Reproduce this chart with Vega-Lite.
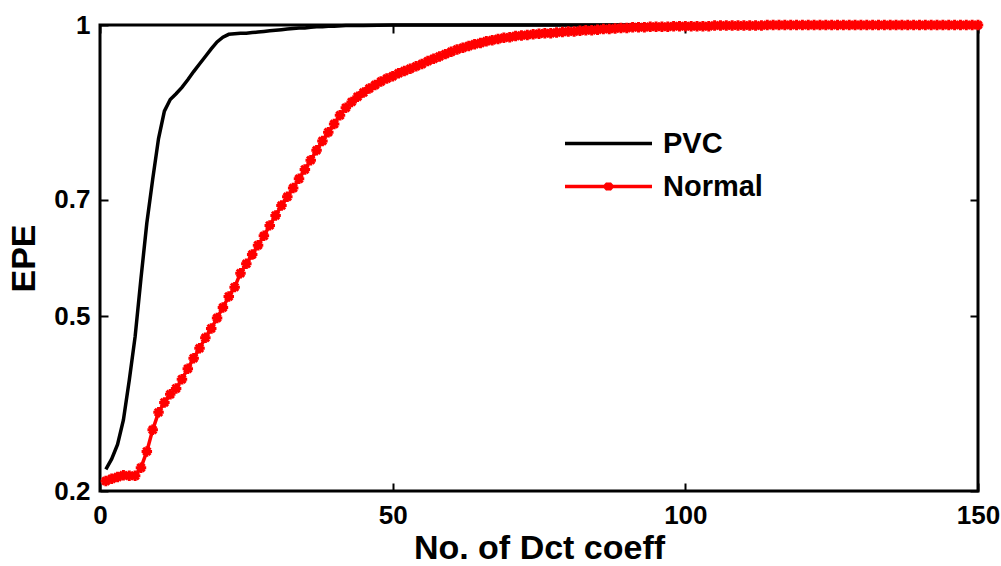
{
  "$schema": "https://vega.github.io/schema/vega-lite/v6.json",
  "width": 878,
  "height": 466,
  "autosize": "none",
  "padding": {"left": 100, "top": 25, "right": 23, "bottom": 75},
  "background": "white",
  "config": {
    "view": {"stroke": "black", "strokeWidth": 3},
    "axis": {
      "domain": false,
      "grid": false,
      "tickColor": "black",
      "tickWidth": 2,
      "tickSize": -8,
      "labelFlush": false,
      "labelFont": "Liberation Sans",
      "labelFontWeight": "bold",
      "labelFontSize": 26,
      "labelColor": "black",
      "titleFont": "Liberation Sans",
      "titleFontWeight": "bold",
      "titleFontSize": 34,
      "titleColor": "black"
    }
  },
  "data": {
    "values": [
      {"x": 1, "v": 0.237, "s": "PVC"}, {"x": 2, "v": 0.255, "s": "PVC"}, {"x": 3, "v": 0.28, "s": "PVC"}, {"x": 4, "v": 0.322, "s": "PVC"}, {"x": 5, "v": 0.39, "s": "PVC"},
      {"x": 6, "v": 0.465, "s": "PVC"}, {"x": 7, "v": 0.565, "s": "PVC"}, {"x": 8, "v": 0.66, "s": "PVC"}, {"x": 9, "v": 0.735, "s": "PVC"}, {"x": 10, "v": 0.805, "s": "PVC"},
      {"x": 11, "v": 0.852, "s": "PVC"}, {"x": 12, "v": 0.872, "s": "PVC"}, {"x": 13, "v": 0.882, "s": "PVC"}, {"x": 14, "v": 0.893, "s": "PVC"}, {"x": 15, "v": 0.906, "s": "PVC"},
      {"x": 16, "v": 0.92, "s": "PVC"}, {"x": 17, "v": 0.933, "s": "PVC"}, {"x": 18, "v": 0.946, "s": "PVC"}, {"x": 19, "v": 0.959, "s": "PVC"}, {"x": 20, "v": 0.971, "s": "PVC"},
      {"x": 21, "v": 0.979, "s": "PVC"}, {"x": 22, "v": 0.984, "s": "PVC"}, {"x": 23, "v": 0.985, "s": "PVC"}, {"x": 24, "v": 0.986, "s": "PVC"}, {"x": 25, "v": 0.986, "s": "PVC"},
      {"x": 26, "v": 0.987, "s": "PVC"}, {"x": 27, "v": 0.988, "s": "PVC"}, {"x": 28, "v": 0.989, "s": "PVC"}, {"x": 29, "v": 0.99, "s": "PVC"}, {"x": 30, "v": 0.991, "s": "PVC"},
      {"x": 31, "v": 0.992, "s": "PVC"}, {"x": 32, "v": 0.993, "s": "PVC"}, {"x": 33, "v": 0.994, "s": "PVC"}, {"x": 34, "v": 0.995, "s": "PVC"}, {"x": 35, "v": 0.995, "s": "PVC"},
      {"x": 36, "v": 0.996, "s": "PVC"}, {"x": 37, "v": 0.997, "s": "PVC"}, {"x": 38, "v": 0.997, "s": "PVC"}, {"x": 39, "v": 0.998, "s": "PVC"}, {"x": 40, "v": 0.998, "s": "PVC"},
      {"x": 42, "v": 0.999, "s": "PVC"}, {"x": 45, "v": 0.999, "s": "PVC"}, {"x": 50, "v": 1, "s": "PVC"}, {"x": 60, "v": 1, "s": "PVC"}, {"x": 80, "v": 1, "s": "PVC"},
      {"x": 100, "v": 1, "s": "PVC"}, {"x": 120, "v": 1, "s": "PVC"}, {"x": 150, "v": 1, "s": "PVC"},
      {"x": 1, "v": 0.217, "s": "Normal"}, {"x": 2, "v": 0.221, "s": "Normal"}, {"x": 3, "v": 0.224, "s": "Normal"}, {"x": 4, "v": 0.227, "s": "Normal"}, {"x": 5, "v": 0.226, "s": "Normal"},
      {"x": 6, "v": 0.226, "s": "Normal"}, {"x": 7, "v": 0.24, "s": "Normal"}, {"x": 8, "v": 0.268, "s": "Normal"}, {"x": 9, "v": 0.305, "s": "Normal"}, {"x": 10, "v": 0.335, "s": "Normal"},
      {"x": 11, "v": 0.352, "s": "Normal"}, {"x": 12, "v": 0.366, "s": "Normal"}, {"x": 13, "v": 0.376, "s": "Normal"}, {"x": 14, "v": 0.392, "s": "Normal"}, {"x": 15, "v": 0.41, "s": "Normal"},
      {"x": 16, "v": 0.428, "s": "Normal"}, {"x": 17, "v": 0.445, "s": "Normal"}, {"x": 18, "v": 0.463, "s": "Normal"}, {"x": 19, "v": 0.479, "s": "Normal"}, {"x": 20, "v": 0.497, "s": "Normal"},
      {"x": 21, "v": 0.515, "s": "Normal"}, {"x": 22, "v": 0.534, "s": "Normal"}, {"x": 23, "v": 0.55, "s": "Normal"}, {"x": 24, "v": 0.574, "s": "Normal"}, {"x": 25, "v": 0.59, "s": "Normal"},
      {"x": 26, "v": 0.606, "s": "Normal"}, {"x": 27, "v": 0.622, "s": "Normal"}, {"x": 28, "v": 0.638, "s": "Normal"}, {"x": 29, "v": 0.656, "s": "Normal"}, {"x": 30, "v": 0.673, "s": "Normal"},
      {"x": 31, "v": 0.69, "s": "Normal"}, {"x": 32, "v": 0.705, "s": "Normal"}, {"x": 33, "v": 0.72, "s": "Normal"}, {"x": 34, "v": 0.736, "s": "Normal"}, {"x": 35, "v": 0.752, "s": "Normal"},
      {"x": 36, "v": 0.768, "s": "Normal"}, {"x": 37, "v": 0.785, "s": "Normal"}, {"x": 38, "v": 0.801, "s": "Normal"}, {"x": 39, "v": 0.816, "s": "Normal"}, {"x": 40, "v": 0.83, "s": "Normal"},
      {"x": 41, "v": 0.845, "s": "Normal"}, {"x": 42, "v": 0.858, "s": "Normal"}, {"x": 43, "v": 0.868, "s": "Normal"}, {"x": 44, "v": 0.877, "s": "Normal"}, {"x": 45, "v": 0.884, "s": "Normal"},
      {"x": 46, "v": 0.891, "s": "Normal"}, {"x": 47, "v": 0.897, "s": "Normal"}, {"x": 48, "v": 0.903, "s": "Normal"}, {"x": 49, "v": 0.908, "s": "Normal"}, {"x": 50, "v": 0.912, "s": "Normal"},
      {"x": 51, "v": 0.917, "s": "Normal"}, {"x": 52, "v": 0.921, "s": "Normal"}, {"x": 53, "v": 0.925, "s": "Normal"}, {"x": 54, "v": 0.929, "s": "Normal"}, {"x": 55, "v": 0.933, "s": "Normal"},
      {"x": 56, "v": 0.938, "s": "Normal"}, {"x": 57, "v": 0.942, "s": "Normal"}, {"x": 58, "v": 0.946, "s": "Normal"}, {"x": 59, "v": 0.95, "s": "Normal"}, {"x": 60, "v": 0.954, "s": "Normal"},
      {"x": 61, "v": 0.958, "s": "Normal"}, {"x": 62, "v": 0.961, "s": "Normal"}, {"x": 63, "v": 0.964, "s": "Normal"}, {"x": 64, "v": 0.967, "s": "Normal"}, {"x": 65, "v": 0.969, "s": "Normal"},
      {"x": 66, "v": 0.972, "s": "Normal"}, {"x": 67, "v": 0.974, "s": "Normal"}, {"x": 68, "v": 0.976, "s": "Normal"}, {"x": 69, "v": 0.978, "s": "Normal"}, {"x": 70, "v": 0.979, "s": "Normal"},
      {"x": 71, "v": 0.981, "s": "Normal"}, {"x": 72, "v": 0.982, "s": "Normal"}, {"x": 73, "v": 0.983, "s": "Normal"}, {"x": 74, "v": 0.984, "s": "Normal"}, {"x": 75, "v": 0.985, "s": "Normal"},
      {"x": 76, "v": 0.986, "s": "Normal"}, {"x": 77, "v": 0.986, "s": "Normal"}, {"x": 78, "v": 0.987, "s": "Normal"}, {"x": 79, "v": 0.988, "s": "Normal"}, {"x": 80, "v": 0.989, "s": "Normal"},
      {"x": 81, "v": 0.989, "s": "Normal"}, {"x": 82, "v": 0.99, "s": "Normal"}, {"x": 83, "v": 0.991, "s": "Normal"}, {"x": 84, "v": 0.991, "s": "Normal"}, {"x": 85, "v": 0.992, "s": "Normal"},
      {"x": 86, "v": 0.993, "s": "Normal"}, {"x": 87, "v": 0.993, "s": "Normal"}, {"x": 88, "v": 0.994, "s": "Normal"}, {"x": 89, "v": 0.995, "s": "Normal"}, {"x": 90, "v": 0.995, "s": "Normal"},
      {"x": 91, "v": 0.996, "s": "Normal"}, {"x": 92, "v": 0.996, "s": "Normal"}, {"x": 93, "v": 0.996, "s": "Normal"}, {"x": 94, "v": 0.997, "s": "Normal"}, {"x": 95, "v": 0.997, "s": "Normal"},
      {"x": 96, "v": 0.997, "s": "Normal"}, {"x": 97, "v": 0.997, "s": "Normal"}, {"x": 98, "v": 0.998, "s": "Normal"}, {"x": 99, "v": 0.998, "s": "Normal"}, {"x": 100, "v": 0.998, "s": "Normal"},
      {"x": 101, "v": 0.998, "s": "Normal"}, {"x": 102, "v": 0.998, "s": "Normal"}, {"x": 103, "v": 0.998, "s": "Normal"}, {"x": 104, "v": 0.998, "s": "Normal"}, {"x": 105, "v": 0.999, "s": "Normal"},
      {"x": 106, "v": 0.999, "s": "Normal"}, {"x": 107, "v": 0.999, "s": "Normal"}, {"x": 108, "v": 0.999, "s": "Normal"}, {"x": 109, "v": 0.999, "s": "Normal"}, {"x": 110, "v": 0.999, "s": "Normal"},
      {"x": 111, "v": 0.999, "s": "Normal"}, {"x": 112, "v": 0.999, "s": "Normal"}, {"x": 113, "v": 0.999, "s": "Normal"}, {"x": 114, "v": 1, "s": "Normal"}, {"x": 115, "v": 1, "s": "Normal"},
      {"x": 116, "v": 1, "s": "Normal"}, {"x": 117, "v": 1, "s": "Normal"}, {"x": 118, "v": 1, "s": "Normal"}, {"x": 119, "v": 1, "s": "Normal"}, {"x": 120, "v": 1, "s": "Normal"},
      {"x": 121, "v": 1, "s": "Normal"}, {"x": 122, "v": 1, "s": "Normal"}, {"x": 123, "v": 1, "s": "Normal"}, {"x": 124, "v": 1, "s": "Normal"}, {"x": 125, "v": 1, "s": "Normal"},
      {"x": 126, "v": 1, "s": "Normal"}, {"x": 127, "v": 1, "s": "Normal"}, {"x": 128, "v": 1, "s": "Normal"}, {"x": 129, "v": 1, "s": "Normal"}, {"x": 130, "v": 1, "s": "Normal"},
      {"x": 131, "v": 1, "s": "Normal"}, {"x": 132, "v": 1, "s": "Normal"}, {"x": 133, "v": 1, "s": "Normal"}, {"x": 134, "v": 1, "s": "Normal"}, {"x": 135, "v": 1, "s": "Normal"},
      {"x": 136, "v": 1, "s": "Normal"}, {"x": 137, "v": 1, "s": "Normal"}, {"x": 138, "v": 1, "s": "Normal"}, {"x": 139, "v": 1, "s": "Normal"}, {"x": 140, "v": 1, "s": "Normal"},
      {"x": 141, "v": 1, "s": "Normal"}, {"x": 142, "v": 1, "s": "Normal"}, {"x": 143, "v": 1, "s": "Normal"}, {"x": 144, "v": 1, "s": "Normal"}, {"x": 145, "v": 1, "s": "Normal"},
      {"x": 146, "v": 1, "s": "Normal"}, {"x": 147, "v": 1, "s": "Normal"}, {"x": 148, "v": 1, "s": "Normal"}, {"x": 149, "v": 1, "s": "Normal"}, {"x": 150, "v": 1, "s": "Normal"}
    ]
  },
  "layer": [
    {
      "mark": {"type": "line", "strokeWidth": 3.5, "clip": false},
      "encoding": {
        "x": {"field": "x", "type": "quantitative", "scale": {"domain": [0, 150], "nice": false, "zero": false},
          "axis": {"orient": "bottom", "values": [0, 50, 100, 150], "labelPadding": 19, "title": "No. of Dct coeff", "titlePadding": 3}},
        "y": {"field": "v", "type": "quantitative", "scale": {"domain": [0.2, 1], "nice": false, "zero": false},
          "axis": {"orient": "left", "values": [0.2, 0.5, 0.7, 1], "format": "~g", "labelPadding": 18, "title": "EPE", "titlePadding": 12}},
        "color": {"field": "s", "type": "nominal", "scale": {"domain": ["PVC", "Normal"], "range": ["black", "red"]},
          "legend": {
            "orient": "none", "legendX": 463, "legendY": 97, "title": null,
            "symbolType": "M-1,0H1", "symbolSize": 7569, "symbolStrokeWidth": 3.5,
            "labelFont": "Liberation Sans", "labelFontWeight": "bold", "labelFontSize": 29, "labelColor": "black",
            "labelOffset": 9, "clipHeight": 43, "rowPadding": 0,
            "encode": {"symbols": {"update": {"shape": [
              {"test": "datum.value === 'Normal'", "value": "M-1,0H1M0,-0.09V0.09M-0.08,-0.07L0.08,0.07M-0.08,0.07L0.08,-0.07"},
              {"value": "M-1,0H1"}
            ]}}}
          }}
      }
    },
    {
      "transform": [{"filter": "datum.s === 'Normal'"}],
      "mark": {"type": "point", "shape": "M-1,0H1M0,-1V1M-0.7,-0.7L0.7,0.7M-0.7,0.7L0.7,-0.7", "size": 110, "stroke": "red", "strokeWidth": 3, "filled": false, "fill": null, "opacity": 1, "strokeOpacity": 1, "clip": false},
      "encoding": {
        "x": {"field": "x", "type": "quantitative", "axis": {"orient": "top", "values": [0, 50, 100, 150], "labels": false, "title": null}},
        "y": {"field": "v", "type": "quantitative", "axis": {"orient": "right", "values": [0.2, 0.5, 0.7, 1], "labels": false, "title": null}}
      }
    }
  ],
  "resolve": {"axis": {"x": "independent", "y": "independent"}}
}
